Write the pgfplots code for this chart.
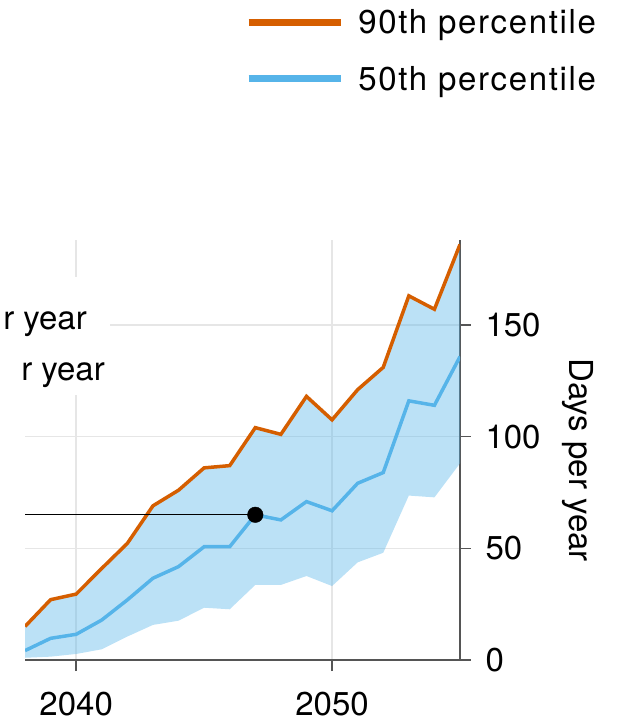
\documentclass[border=0pt]{standalone}
\usepackage{fontspec}
\setmainfont{TeX Gyre Heros}
\newfontfamily\legendfont{TeX Gyre Heros}[LetterSpace=5]
\usepackage{pgfplots}
\usepackage{pgfplotstable}
\pgfplotsset{compat=1.18}
\usepgfplotslibrary{fillbetween}

\definecolor{orange90}{HTML}{D55E00}
\definecolor{blue50}{HTML}{56B4E9}
\definecolor{gridgray}{HTML}{E6E6E6}
\definecolor{axisgray}{HTML}{555555}

% days per year: lower band edge, 50th and 90th percentile
\pgfplotstableread{
year lo   p50   p90
2038 1.0  4.2   15
2039 1.5  9.7   27
2040 2.7  11.5  29.5
2041 4.8  17.9  41
2042 10.5 26.9  52.2
2043 15.7 36.6  69
2044 17.6 41.8  76
2045 23.4 50.7  86
2046 22.7 50.7  87
2047 33.6 65.0  104
2048 33.6 62.7  101
2049 37.6 70.9  118
2050 33.1 66.8  107.5
2051 43.7 79.1  121
2052 48.0 83.9  131
2053 73.6 116.0 163
2054 72.8 114.0 157
2055 88.0 135.8 186
}\days

\newcommand\bigfont{\fontsize{33}{40}\selectfont}

\begin{document}
\begin{tikzpicture}
\begin{axis}[
    at={(25pt,65pt)}, anchor=south west,
    scale only axis,
    width=435pt, height=420pt,
    xmin=2038, xmax=2055,
    ymin=0, ymax=188,
    axis x line*=bottom, axis y line*=right,
    xtick={2040,2050}, ytick={0,50,100,150},
    xticklabel style={/pgf/number format/1000 sep={}, yshift=-18pt},
    yticklabel style={xshift=11pt},
    /pgf/number format/assume math mode=true,
    tick align=outside, major tick length=11pt,
    grid=major,
    major grid style={gridgray, line width=1.5pt},
    axis line style={axisgray, line width=1.4pt},
    tick style={axisgray, line width=1.4pt},
    ticklabel style={font=\bigfont},
    ylabel={Days per year},
    ylabel style={at={(rel axis cs:1.271,0.476)}, rotate=180, anchor=center, font=\bigfont},
    legend style={at={(axis description cs:0.5055,1.559)}, anchor=north west,
      draw=none, fill=none, inner sep=0pt, font=\legendfont\bigfont,
      row sep=23pt, nodes={inner sep=4pt}},
    legend cell align=left,
    legend image code/.code={\draw[#1, line width=7pt] (0pt,0pt) -- (92pt,0pt); \path (104pt,0pt);},
  ]

  \addplot[draw=none, name path=lo, forget plot] table[x=year, y=lo] {\days};
  \addplot[draw=none, name path=hi, forget plot] table[x=year, y=p90] {\days};
  \addplot[fill=blue50, fill opacity=0.4, forget plot] fill between[of=hi and lo];

  \addplot[orange90, line width=3.5pt] table[x=year, y=p90] {\days};
  \addlegendentry{90th percentile}
  \addplot[blue50, line width=3.5pt] table[x=year, y=p50] {\days};
  \addlegendentry{50th percentile}

  % callout
  \addplot[black, line width=1.2pt, forget plot] coordinates {(2038,65) (2047,65)};
  \addplot[only marks, mark=*, mark size=7.8pt, black, forget plot] coordinates {(2047,65)};
\end{axis}

% text of the neighbouring panel, cut at the edge in the reference
\fill[white] (0pt,330pt) rectangle (110pt,448pt);
\node[anchor=base east, inner sep=0pt, font=\bigfont] at (87pt,395pt) {r year};
\node[anchor=base east, inner sep=0pt, font=\bigfont] at (105pt,344pt) {r year};
\path[use as bounding box] (0pt,0pt) rectangle (628pt,725pt);
\end{tikzpicture}
\end{document}
